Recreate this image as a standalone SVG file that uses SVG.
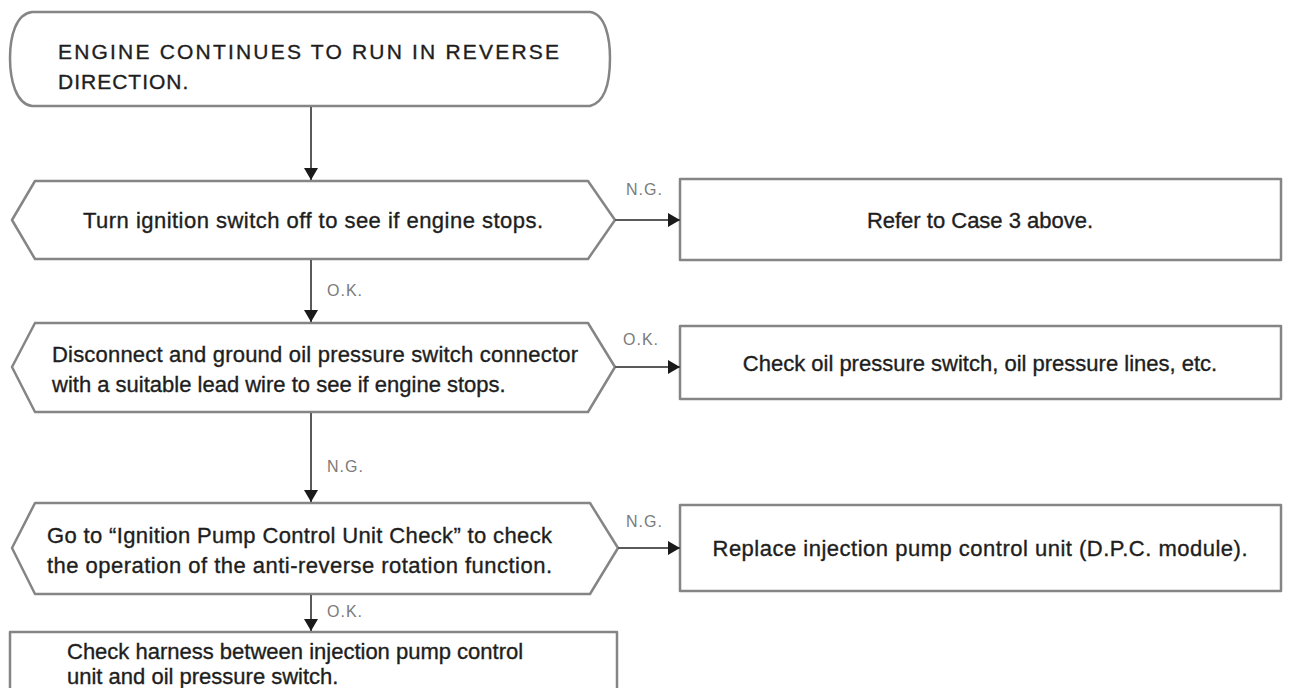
<svg xmlns="http://www.w3.org/2000/svg" width="1290" height="688" viewBox="0 0 1290 688">
  <defs>
    <!-- single filled arrowhead, oriented along the connector -->
    <marker id="arrowHead" viewBox="0 0 12 14" refX="12" refY="7" markerWidth="12" markerHeight="14" markerUnits="userSpaceOnUse" orient="auto">
      <path d="M0,0 L12,7 L0,14 Z" fill="#1a1a1a"/>
    </marker>
    <style>
      .edge { fill: #ffffff; stroke: #858585; stroke-width: 2.5; stroke-linejoin: round; }
      .txt { font-family: "Liberation Sans", Arial, sans-serif; font-size: 22px; fill: #1e1e1e; stroke: #1e1e1e; stroke-width: 0.35px; }
      .caps { font-family: "Liberation Sans", Arial, sans-serif; font-size: 21px; fill: #1e1e1e; stroke: #1e1e1e; stroke-width: 0.35px; letter-spacing: 1px; }
      .lbl { font-family: "Liberation Sans", Arial, sans-serif; font-size: 16px; fill: #7a7a7a; letter-spacing: 1px; }
      .wire { fill: none; stroke: #5a5a5a; stroke-width: 2; marker-end: url(#arrowHead); }
    </style>
  </defs>

  <!-- start terminal -->
  <g id="start">
    <path class="edge" d="M32,12 H590 C606,14 610,40 610,58 C610,80 606,102 590,106 H32 C16,104 10,80 10,58 C10,36 16,14 32,12 Z"/>
    <text class="caps" x="58" y="59" textLength="502">ENGINE CONTINUES TO RUN IN REVERSE</text>
    <text class="caps" x="58" y="89">DIRECTION.</text>
  </g>

  <!-- decision: ignition switch -->
  <g id="check-ignition">
    <polygon class="edge" points="35,181 588,181 615,220 588,259 35,259 12,220"/>
    <text class="txt" x="313" y="228" text-anchor="middle" textLength="460">Turn ignition switch off to see if engine stops.</text>
  </g>

  <g id="refer-case3">
    <rect class="edge" x="680" y="179" width="601" height="81"/>
    <text class="txt" x="980" y="228" text-anchor="middle">Refer to Case 3 above.</text>
  </g>

  <!-- decision: ground oil pressure switch connector -->
  <g id="check-ground">
    <polygon class="edge" points="35,323 588,323 615,367 588,412 35,412 12,367"/>
    <text class="txt" x="52" y="362" textLength="526">Disconnect and ground oil pressure switch connector</text>
    <text class="txt" x="52" y="392">with a suitable lead wire to see if engine stops.</text>
  </g>

  <g id="check-oil-switch">
    <rect class="edge" x="680" y="326" width="601" height="73"/>
    <text class="txt" x="980" y="371" text-anchor="middle">Check oil pressure switch, oil pressure lines, etc.</text>
  </g>

  <!-- decision: control unit check -->
  <g id="check-control-unit">
    <polygon class="edge" points="35,503 590,503 618,548 590,594 35,594 12,548"/>
    <text class="txt" x="47" y="543" textLength="505">Go to “Ignition Pump Control Unit Check” to check</text>
    <text class="txt" x="47" y="573" textLength="505">the operation of the anti-reverse rotation function.</text>
  </g>

  <g id="replace-unit">
    <rect class="edge" x="680" y="505" width="601" height="86"/>
    <text class="txt" x="980" y="556" text-anchor="middle" textLength="535">Replace injection pump control unit (D.P.C. module).</text>
  </g>

  <g id="check-harness">
    <rect class="edge" x="10" y="632" width="607" height="80"/>
    <text class="txt" x="67" y="659">Check harness between injection pump control</text>
    <text class="txt" x="67" y="684">unit and oil pressure switch.</text>
  </g>

  <!-- connectors -->
  <g id="connectors">
    <line class="wire" x1="311" y1="107" x2="311" y2="180"/>
    <line class="wire" x1="615" y1="220" x2="680" y2="220"/>
    <text class="lbl" x="626" y="195">N.G.</text>

    <line class="wire" x1="311" y1="260" x2="311" y2="322"/>
    <text class="lbl" x="327" y="296">O.K.</text>

    <line class="wire" x1="615" y1="367" x2="680" y2="367"/>
    <text class="lbl" x="623" y="345">O.K.</text>

    <line class="wire" x1="311" y1="413" x2="311" y2="502"/>
    <text class="lbl" x="327" y="472">N.G.</text>

    <line class="wire" x1="618" y1="548" x2="680" y2="548"/>
    <text class="lbl" x="626" y="527">N.G.</text>

    <line class="wire" x1="311" y1="595" x2="311" y2="631"/>
    <text class="lbl" x="327" y="617">O.K.</text>
  </g>
</svg>
